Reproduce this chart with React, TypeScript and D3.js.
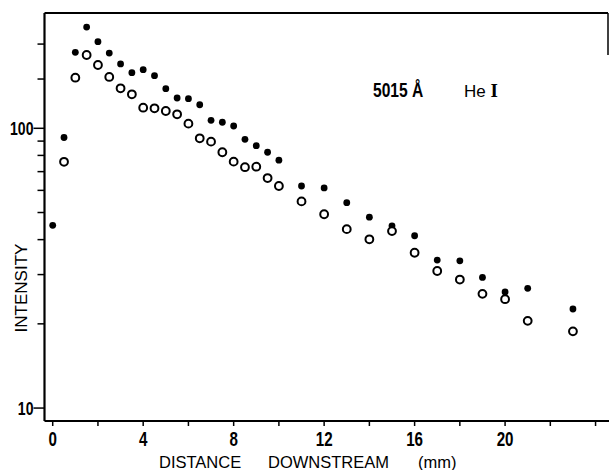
import React from 'react';
import * as d3 from 'd3';

// distance downstream (mm)
const distFilled = [0, 0.5, 1, 1.5, 2, 2.5, 3, 3.5, 4, 4.5, 5, 5.5, 6, 6.5, 7, 7.5, 8, 8.5, 9, 9.5, 10,
  11, 12, 13, 14, 15, 16, 17, 18, 19, 20, 21, 23];
const intensityFilled = [45, 92.7, 186.9, 230, 204, 185.8, 169.8, 158.1, 162, 154.2, 138.6, 128.3, 127.6, 121.4,
  106.8, 105.1, 101.9, 91.3, 86.7, 82.1, 76.9, 62.2, 61.2, 54.2, 48.1, 44.8, 41.3, 33.8, 33.6, 29.3, 26.0, 26.8, 22.6];

const distOpen = [0.5, 1, 1.5, 2, 2.5, 3, 3.5, 4, 4.5, 5, 5.5, 6, 6.5, 7, 7.5, 8, 8.5, 9, 9.5, 10,
  11, 12, 13, 14, 15, 16, 17, 18, 19, 20, 21, 23];
const intensityOpen = [75.9, 151.7, 182.8, 168.4, 152.6, 139, 132.3, 118.5, 117.9, 115.3, 112.2, 103.9, 92.1,
  89.6, 82.1, 76, 72.6, 72.9, 66.4, 62.2, 54.8, 49.3, 43.6, 40.1, 42.9, 35.9, 30.9, 28.8, 25.6, 24.5, 20.5, 18.8];

const xTicks = [0, 2, 4, 6, 8, 10, 12, 14, 16, 18, 20, 22, 24];
const xLabels = [0, 4, 8, 12, 16, 20];
const yMajor = [10, 100];
const yMinor = [20, 30, 40, 50, 60, 70, 80, 90, 150, 200];

const W = 609, H = 470;
const left = 44.5, right = 608, top = 13, bottom = 421;

const sans = '"Liberation Sans", Arial, Helvetica, sans-serif';
// condensed bold digits, squeezed horizontally
const squeeze = 0.74;

export default function App() {
  const x = d3.scaleLinear().domain([-0.363, 24.55]).range([left, right]);
  const y = d3.scaleLog().domain([8.99, 258.3]).range([bottom, top]);

  const filled = distFilled.map((d, i) => ({ d, v: intensityFilled[i] }));
  const open = distOpen.map((d, i) => ({ d, v: intensityOpen[i] }));

  return (
    <svg width={W} height={H} style={{ position: 'absolute', left: 0, top: 0, background: '#fff' }}>
      {/* frame */}
      <g stroke="#000" fill="none">
        <line x1={left} x2={left} y1={top} y2={bottom} strokeWidth={2.2} />
        <line x1={left} x2={W} y1={bottom} y2={bottom} strokeWidth={2.2} />
        <line x1={left} x2={right} y1={top} y2={top} strokeWidth={1.8} />
        <line x1={right} x2={right} y1={top} y2={55} strokeWidth={1.5} />
      </g>

      {/* x ticks */}
      <g stroke="#000" strokeWidth={1.5}>
        {xTicks.map(t => (
          <line key={t} x1={x(t)} x2={x(t)} y1={bottom} y2={bottom + 5} />
        ))}
      </g>
      <g fontFamily={sans} fontWeight="bold" fontSize={20.5} textAnchor="middle">
        {xLabels.map(t => (
          <text key={t} transform={`translate(${x(t)},445.5) scale(${squeeze},1)`}>{t}</text>
        ))}
      </g>

      {/* y ticks */}
      <g stroke="#000" strokeWidth={1.5}>
        {yMajor.map(t => (
          <line key={t} x1={left - 11} x2={left} y1={y(t)} y2={y(t)} />
        ))}
        {yMinor.map(t => (
          <line key={t} x1={left - 7} x2={left} y1={y(t)} y2={y(t)} />
        ))}
      </g>
      <g fontFamily={sans} fontWeight="bold" fontSize={19} textAnchor="end">
        {yMajor.map(t => (
          <text key={t} transform={`translate(${left - 11},${y(t) + 7}) scale(${squeeze},1)`}>{t}</text>
        ))}
      </g>

      {/* data */}
      <g fill="#000">
        {filled.map((p, i) => (
          <circle key={i} cx={x(p.d)} cy={y(p.v)} r={3.4} />
        ))}
      </g>
      <g fill="#fff" stroke="#000" strokeWidth={2}>
        {open.map((p, i) => (
          <circle key={i} cx={x(p.d)} cy={y(p.v)} r={3.9} />
        ))}
      </g>

      {/* legend */}
      <text transform="translate(373,97) scale(0.78,1)" fontFamily={sans} fontWeight="bold" fontSize={20}>
        5015 Å
      </text>
      <text x={464} y={97} fontFamily={sans} fontSize={17}>
        He <tspan fontFamily='"Liberation Serif", "DejaVu Serif", serif' fontWeight="bold" fontSize={19}>I</tspan>
      </text>

      {/* axis titles */}
      <text y={468} fontFamily={sans} fontSize={16.5}>
        <tspan x={159}>DISTANCE</tspan>
        <tspan x={268}>DOWNSTREAM</tspan>
        <tspan x={418}>(mm)</tspan>
      </text>
      <text transform="translate(27,288) rotate(-90)" textAnchor="middle" fontFamily={sans} fontSize={17}>
        INTENSITY
      </text>
    </svg>
  );
}
